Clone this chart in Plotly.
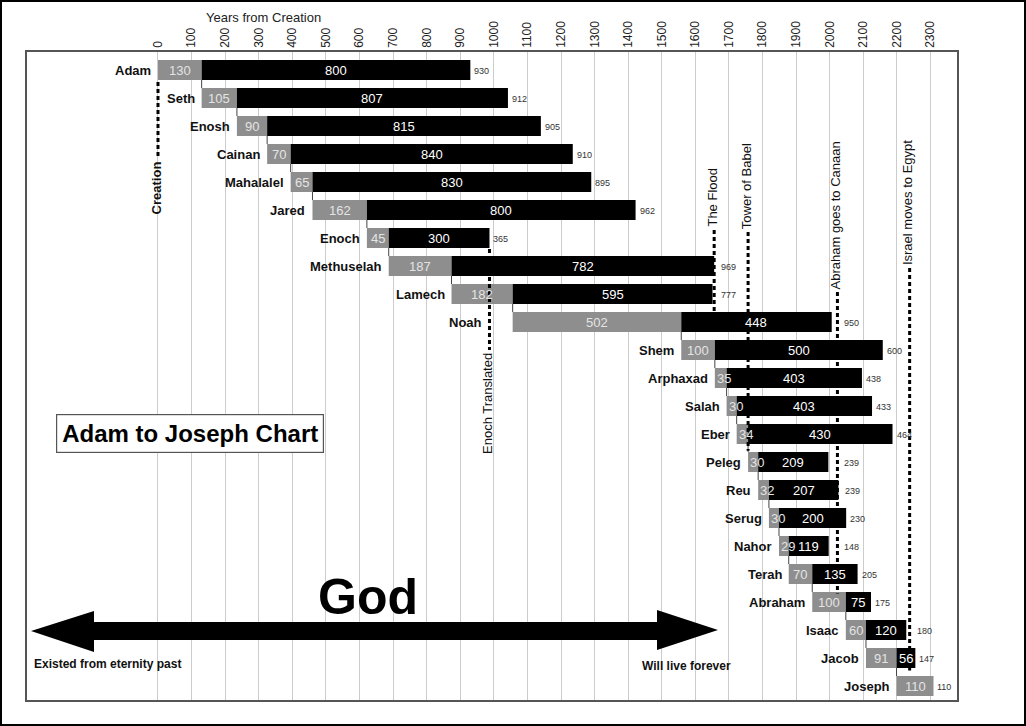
import plotly.graph_objects as go

# ---------------- data ----------------
names = ["Adam", "Seth", "Enosh", "Cainan", "Mahalalel", "Jared", "Enoch",
         "Methuselah", "Lamech", "Noah", "Shem", "Arphaxad", "Salah", "Eber",
         "Peleg", "Reu", "Serug", "Nahor", "Terah", "Abraham", "Isaac",
         "Jacob", "Joseph"]
# age at birth of the son (grey part)
age_at_son = [130, 105, 90, 70, 65, 162, 65, 187, 182, 502, 100, 35, 30, 34,
              30, 32, 30, 29, 70, 100, 60, 91, 110]
# label printed in the grey part (as printed on the chart)
age_at_son_label = ["130", "105", "90", "70", "65", "162", "45", "187", "182",
                    "502", "100", "35", "30", "34", "30", "32", "30", "29",
                    "70", "100", "60", "91", "110"]
# remaining years (black part)
remaining = [800, 807, 815, 840, 830, 800, 300, 782, 595, 448, 500, 403, 403,
             430, 209, 207, 200, 119, 135, 75, 120, 56, 0]

tick_years = list(range(0, 2400, 100))

# events: name, year, line from/to (row units), text side, bold
event_names = ["Creation", "Enoch Translated", "The Flood", "Tower of Babel",
               "Abraham goes to Canaan", "Israel moves to Egypt"]
event_years = [0, 987, 1656, 1757, 2023, 2238]
event_line_from = [0.43, 6.39, 5.71, 5.79, 7.93, 7.07]
event_line_to = [3.14, 10.0, 9.29, 13.6, 18.7, 21.45]
event_text_side = ["below", "below", "above", "above", "above", "above"]
event_bold = [True, False, False, False, False, False]

# ---------------- derived ----------------
n = len(names)
rows = list(range(n))
birth = [0]
for g in age_at_son[:-1]:
    birth.append(birth[-1] + g)
black_base = [b + g for b, g in zip(birth, age_at_son)]
total = [g + r for g, r in zip(age_at_son, remaining)]

FONT = "Liberation Sans, Arial, sans-serif"
BAR_W = 0.714

# pixel helpers for decorations (plot area: l=27, t=52, w=930, h=648)
L, T, W, H = 27, 52, 930, 648
def px(p):
    return (p - L) / W
def py(p):
    return (T + H - p) / H

fig = go.Figure()

fig.add_trace(go.Bar(
    orientation="h", y=rows, x=age_at_son, base=birth, width=BAR_W,
    marker=dict(color="#8e8e8e", line=dict(width=0)), hoverinfo="skip",
    showlegend=False))
fig.add_trace(go.Bar(
    orientation="h", y=rows, x=remaining, base=black_base, width=BAR_W,
    marker=dict(color="#000000", line=dict(width=0)), hoverinfo="skip",
    showlegend=False))

# connectors from father's bar to son's bar
cx, cy = [], []
for i in range(n - 1):
    cx += [birth[i + 1], birth[i + 1], None]
    cy += [i + BAR_W / 2, i + 1 - BAR_W / 2, None]
fig.add_trace(go.Scatter(x=cx, y=cy, mode="lines",
                         line=dict(color="#444444", width=1),
                         hoverinfo="skip", showlegend=False))

# event lines
for yr, y0, y1 in zip(event_years, event_line_from, event_line_to):
    fig.add_trace(go.Scatter(x=[yr, yr], y=[y0, y1], mode="lines",
                             line=dict(color="#000000", width=3, dash="4px,3px"),
                             hoverinfo="skip", showlegend=False))

def crossing_line(row, lo, hi):
    """event year of a dotted line crossing this row between lo and hi"""
    for yr, y0, y1 in zip(event_years, event_line_from, event_line_to):
        if lo <= yr <= hi and y0 <= row <= y1 + 0.5:
            return yr
    return None

annotations = []
for i in range(n):
    end = birth[i] + total[i]
    # name (kept left of a dotted line just before the bar)
    yr = crossing_line(i, birth[i] - 80, birth[i] - 1)
    nx, nshift = (yr, -5) if yr is not None else (birth[i], -5)
    annotations.append(dict(
        x=nx, y=i, text="<b>%s</b>" % names[i], showarrow=False,
        xanchor="right", yanchor="middle", xshift=nshift,
        font=dict(family=FONT, size=13, color="#111111")))
    # grey value
    if age_at_son[i] < 50:
        annotations.append(dict(
            x=birth[i], y=i, text=age_at_son_label[i], showarrow=False,
            xanchor="left", yanchor="middle", xshift=0,
            font=dict(family=FONT, size=13, color="#e4e4e4")))
    else:
        annotations.append(dict(
            x=birth[i] + age_at_son[i] / 2, y=i, text=age_at_son_label[i],
            showarrow=False, xanchor="center", yanchor="middle",
            font=dict(family=FONT, size=13, color="#e4e4e4")))
    # black value
    if remaining[i] > 0:
        annotations.append(dict(
            x=black_base[i] + remaining[i] / 2, y=i, text=str(remaining[i]),
            showarrow=False, xanchor="center", yanchor="middle",
            font=dict(family=FONT, size=13, color="#ffffff")))
    # total (pushed past a dotted event line right after the bar end)
    yr = crossing_line(i, end - 3, end + 30)
    tx, shift = (max(end, yr), 5) if yr is not None else (end, 2)
    annotations.append(dict(
        x=tx, y=i + 0.05, text=str(total[i]), showarrow=False,
        xanchor="left", yanchor="middle", xshift=shift,
        font=dict(family=FONT, size=9, color="#333333")))

# event labels
for nm, yr, y0, y1, side, bold in zip(event_names, event_years, event_line_from,
                                      event_line_to, event_text_side, event_bold):
    txt = "<b>%s</b>" % nm if bold else nm
    if side == "above":
        annotations.append(dict(x=yr, y=y0, text=txt, textangle=-90,
                                showarrow=False, xanchor="center", yanchor="bottom",
                                xshift=-2, yshift=1,
                                font=dict(family=FONT, size=13, color="#111111")))
    else:
        annotations.append(dict(x=yr, y=y1, text=txt, textangle=-90,
                                showarrow=False, xanchor="center", yanchor="top",
                                xshift=-2, yshift=-1,
                                font=dict(family=FONT, size=13, color="#111111")))

# axis title
annotations.append(dict(xref="paper", yref="paper", x=px(263), y=py(17),
                        text="Years from Creation", showarrow=False,
                        xanchor="center", yanchor="middle",
                        font=dict(family=FONT, size=13, color="#222222")))
# chart title box
annotations.append(dict(xref="paper", yref="paper", x=px(189.5), y=py(433),
                        text="<b>Adam to Joseph Chart</b>", showarrow=False,
                        xanchor="center", yanchor="middle",
                        bordercolor="#555555", borderwidth=1.2, borderpad=5,
                        bgcolor="#ffffff",
                        font=dict(family=FONT, size=24, color="#000000")))
# God
annotations.append(dict(xref="paper", yref="paper", x=px(368), y=py(597),
                        text="<b>God</b>", showarrow=False,
                        xanchor="center", yanchor="middle",
                        font=dict(family=FONT, size=50, color="#000000")))
annotations.append(dict(xref="paper", yref="paper", x=px(32), y=py(664),
                        text="<b>Existed from eternity past</b>", showarrow=False,
                        xanchor="left", yanchor="middle",
                        font=dict(family=FONT, size=12, color="#111111")))
annotations.append(dict(xref="paper", yref="paper", x=px(640), y=py(666),
                        text="<b>Will live forever</b>", showarrow=False,
                        xanchor="left", yanchor="middle",
                        font=dict(family=FONT, size=12, color="#111111")))

# double arrow
pts = [(31, 631), (94, 611), (94, 622), (657, 622), (657, 610), (718, 630),
       (657, 650), (657, 640), (94, 640), (94, 652)]
path = "M " + " L ".join("%.5f,%.5f" % (px(a), py(b)) for a, b in pts) + " Z"

shapes = [
    dict(type="path", xref="paper", yref="paper", path=path,
         fillcolor="#000000", line=dict(color="#000000", width=0)),
    dict(type="rect", xref="paper", yref="paper",
         x0=px(1), x1=px(1025), y0=py(725), y1=py(1),
         line=dict(color="#000000", width=2), fillcolor="rgba(0,0,0,0)"),
]

fig.update_layout(
    width=1026, height=726,
    margin=dict(l=L, r=1026 - L - W, t=T, b=726 - T - H, pad=0),
    paper_bgcolor="#ffffff", plot_bgcolor="#ffffff",
    barmode="overlay", showlegend=False,
    annotations=annotations, shapes=shapes,
    xaxis=dict(side="top", range=[-390, 2379], tickvals=tick_years,
               ticktext=[str(t) for t in tick_years], tickangle=-90,
               tickfont=dict(family=FONT, size=12, color="#222222"),
               showgrid=True, gridcolor="#cccccc", gridwidth=1,
               zeroline=False, ticks="", showline=True, mirror=True,
               linecolor="#555555", linewidth=1.5, fixedrange=True),
    yaxis=dict(range=[22.5, -0.643], showticklabels=False, showgrid=False,
               zeroline=False, ticks="", showline=True, mirror=True,
               linecolor="#555555", linewidth=1.5, fixedrange=True),
)

fig.write_html("out.html",
               config={"displayModeBar": False},
               post_script="document.body.style.margin='0px';"
                           "document.body.style.overflow='hidden';")
